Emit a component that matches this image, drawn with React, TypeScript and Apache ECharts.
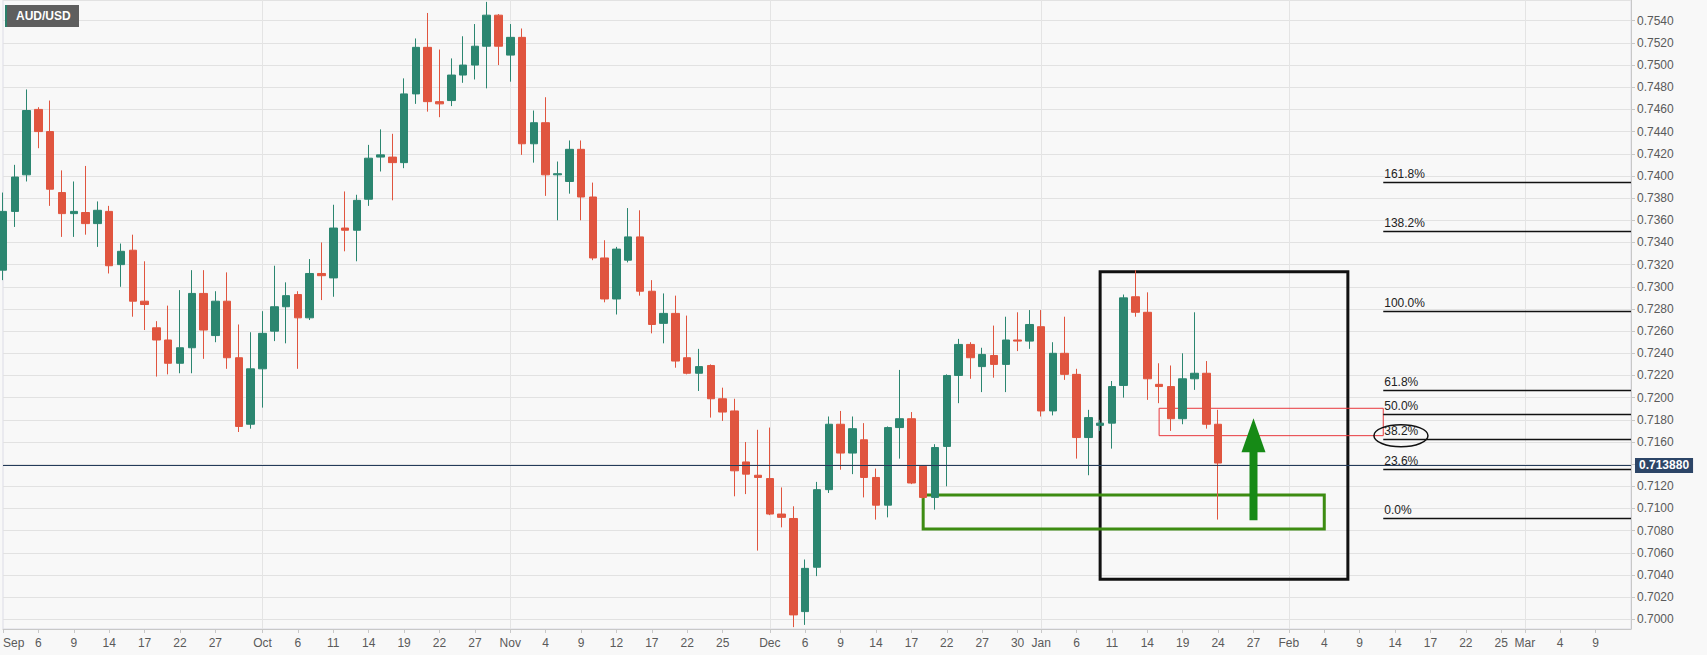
import React, { useEffect, useRef } from "react";
import * as echarts from "echarts";

// ---------- data ----------
const FIRST_DAY = "2021-09-01";
const DAY_COUNT = 139; // trading days shown on the axis (Sep 1 2021 .. Mar 14 2022)

const opens = [
  0.7315, 0.7368, 0.7401, 0.7460, 0.7440, 0.7385, 0.7366, 0.7367, 0.7357, 0.7368,
  0.7320, 0.7333, 0.7287, 0.7263, 0.7252, 0.7231, 0.7245, 0.7294, 0.7256, 0.7287,
  0.7236, 0.7176, 0.7226, 0.7260, 0.7282, 0.7293, 0.7272, 0.7312, 0.7308, 0.7353,
  0.7351, 0.7379, 0.7417, 0.7417, 0.7412, 0.7474, 0.7516, 0.7467, 0.7468, 0.7491,
  0.7500, 0.7517, 0.7545, 0.7509, 0.7525, 0.7429, 0.7448, 0.7401, 0.7395, 0.7424,
  0.7381, 0.7326, 0.7289, 0.7324, 0.7345, 0.7296, 0.7267, 0.7276, 0.7236, 0.7222,
  0.7229, 0.7199, 0.7188, 0.7142, 0.7130, 0.7127, 0.7095, 0.7091, 0.7007, 0.7047,
  0.7117, 0.7176, 0.7150, 0.7162, 0.7128, 0.7103, 0.7173, 0.7181, 0.7138, 0.7110,
  0.7156, 0.7220, 0.7248, 0.7228, 0.7238, 0.7230, 0.7252, 0.7251, 0.7264, 0.7188,
  0.7240, 0.7221, 0.7164, 0.7175, 0.7177, 0.7211, 0.7291, 0.7277, 0.7212, 0.7210,
  0.7181, 0.7217, 0.7222, 0.7176,
];
const closes = [
  0.7368, 0.7399, 0.7459, 0.7440, 0.7388, 0.7366, 0.7368, 0.7357, 0.7369, 0.7319,
  0.7332, 0.7287, 0.7284, 0.7252, 0.7231, 0.7245, 0.7294, 0.7261, 0.7287, 0.7236,
  0.7174, 0.7226, 0.7258, 0.7282, 0.7292, 0.7272, 0.7312, 0.7310, 0.7353, 0.7351,
  0.7378, 0.7416, 0.7419, 0.7412, 0.7474, 0.7516, 0.7467, 0.7465, 0.7491, 0.7500,
  0.7517, 0.7545, 0.7517, 0.7525, 0.7429, 0.7448, 0.7401, 0.7402, 0.7424, 0.7381,
  0.7326, 0.7289, 0.7334, 0.7345, 0.7296, 0.7266, 0.7276, 0.7233, 0.7222, 0.7228,
  0.7199, 0.7187, 0.7134, 0.7131, 0.7128, 0.7095, 0.7092, 0.7004, 0.7046, 0.7117,
  0.7176, 0.7150, 0.7172, 0.7128, 0.7103, 0.7173, 0.7181, 0.7123, 0.7110, 0.7155,
  0.7220, 0.7248, 0.7236, 0.7239, 0.7230, 0.7252, 0.7251, 0.7266, 0.7188, 0.7240,
  0.7221, 0.7164, 0.7182, 0.7177, 0.7210, 0.7290, 0.7277, 0.7217, 0.7210, 0.7181,
  0.7217, 0.7222, 0.7176, 0.7141,
];
const lows = [
  0.7306, 0.7354, 0.7395, 0.7425, 0.7373, 0.7345, 0.7345, 0.7347, 0.7336, 0.7312,
  0.7300, 0.7273, 0.7261, 0.7219, 0.7221, 0.7222, 0.7222, 0.7235, 0.7250, 0.7226,
  0.7169, 0.7172, 0.7191, 0.7251, 0.7249, 0.7226, 0.7270, 0.7288, 0.7291, 0.7332,
  0.7323, 0.7373, 0.7404, 0.7378, 0.7407, 0.7465, 0.7458, 0.7453, 0.7463, 0.7484,
  0.7487, 0.7479, 0.7500, 0.7485, 0.7419, 0.7412, 0.7382, 0.7360, 0.7384, 0.7360,
  0.7324, 0.7286, 0.7275, 0.7322, 0.7292, 0.7258, 0.7249, 0.7227, 0.7221, 0.7206,
  0.7182, 0.7179, 0.7111, 0.7113, 0.7062, 0.7094, 0.7083, 0.6993, 0.6995, 0.7039,
  0.7114, 0.7135, 0.7131, 0.7110, 0.7090, 0.7092, 0.7145, 0.7122, 0.7109, 0.7099,
  0.7120, 0.7195, 0.7217, 0.7205, 0.7218, 0.7205, 0.7242, 0.7244, 0.7183, 0.7184,
  0.7216, 0.7145, 0.7130, 0.7170, 0.7154, 0.7200, 0.7273, 0.7198, 0.7195, 0.7170,
  0.7176, 0.7207, 0.7172, 0.7090,
];
const highs = [
  0.7385, 0.7410, 0.7478, 0.7462, 0.7468, 0.7405, 0.7395, 0.7409, 0.7377, 0.7373,
  0.7339, 0.7347, 0.7323, 0.7269, 0.7283, 0.7297, 0.7315, 0.7315, 0.7296, 0.7313,
  0.7266, 0.7259, 0.7278, 0.7319, 0.7304, 0.7296, 0.7325, 0.7340, 0.7374, 0.7386,
  0.7383, 0.7428, 0.7442, 0.7438, 0.7488, 0.7524, 0.7547, 0.7514, 0.7506, 0.7526,
  0.7537, 0.7557, 0.7546, 0.7537, 0.7533, 0.7459, 0.7471, 0.7413, 0.7432, 0.7432,
  0.7394, 0.7342, 0.7336, 0.7371, 0.7369, 0.7306, 0.7294, 0.7292, 0.7274, 0.7244,
  0.7230, 0.7209, 0.7199, 0.7160, 0.7171, 0.7173, 0.7119, 0.7102, 0.7054, 0.7124,
  0.7183, 0.7188, 0.7183, 0.7177, 0.7136, 0.7174, 0.7225, 0.7187, 0.7139, 0.7158,
  0.7221, 0.7253, 0.7250, 0.7245, 0.7265, 0.7273, 0.7277, 0.7279, 0.7279, 0.7250,
  0.7273, 0.7226, 0.7189, 0.7180, 0.7215, 0.7293, 0.7315, 0.7295, 0.7231, 0.7229,
  0.7240, 0.7277, 0.7233, 0.7189,
];

const tickIndex = [
  0, 3, 6, 9, 12, 15, 18, 22, 25, 28, 31, 34, 37, 40, 43, 46, 49, 52, 55, 58, 61,
  65, 68, 71, 74, 77, 80, 83, 86, 88, 91, 94, 97, 100, 103, 106, 109, 112, 115,
  118, 121, 124, 127, 129, 132, 135,
];
const tickLabels = [
  "Sep", "6", "9", "14", "17", "22", "27", "Oct", "6", "11", "14", "19", "22", "27",
  "Nov", "4", "9", "12", "17", "22", "25", "Dec", "6", "9", "14", "17", "22", "27",
  "30", "Jan", "6", "11", "14", "19", "24", "27", "Feb", "4", "9", "14", "17", "22",
  "25", "Mar", "4", "9",
];
const monthStartIndex = [22, 43, 65, 88, 109, 129];

const lastPrice = 0.71388;

const fibLabels = ["0.0%", "23.6%", "38.2%", "50.0%", "61.8%", "100.0%", "138.2%", "161.8%"];
const fibLevels = [0.70912, 0.71354, 0.71624, 0.7185, 0.72066, 0.72782, 0.73503, 0.73942];
const fibFromIndex = 117;
const fibToIndex = 138;

// annotation boxes: [fromIndex, topValue, toIndex, bottomValue]
const blackBox = [93, 0.73136, 114, 0.70362];
const greenBox = [78, 0.71122, 112, 0.70815];
const redBox = [98, 0.71904, 117, 0.71657];
// arrow: [index, baseValue, tipValue]
const arrowData = [[106, 0.70895, 0.71814]];
// ellipse around the 38.2% label: [index (between it and next), value]
const ellipseData = [[118, 0.71657]];

// ---------- helpers ----------
function tradingDays(start: string, count: number): string[] {
  const out: string[] = [];
  const d = new Date(start + "T00:00:00Z");
  while (out.length < count) {
    const wd = d.getUTCDay();
    if (wd !== 0 && wd !== 6) out.push(d.toISOString().slice(0, 10));
    d.setUTCDate(d.getUTCDate() + 1);
  }
  return out;
}

const GREEN = "#2b8670";
const RED = "#e0553f";
const FONT = "'Liberation Sans', Arial, sans-serif";

export default function App() {
  const ref = useRef<HTMLDivElement>(null);

  useEffect(() => {
    if (!ref.current) return;
    const chart = echarts.init(ref.current, undefined, { renderer: "svg" });

    const categories = tradingDays(FIRST_DAY, DAY_COUNT);
    const candles = opens.map((o, i) => [o, closes[i], lows[i], highs[i]]);
    const tickSet = new Set(tickIndex);
    const labelMap: Record<number, string> = {};
    tickIndex.forEach((t, i) => (labelMap[t] = tickLabels[i]));
    const monthSet = new Set(monthStartIndex);

    const boxStyle = (color: string, width: number) => ({
      color: "rgba(0,0,0,0)",
      borderColor: color,
      borderWidth: width,
    });
    const box = (b: number[], color: string, width: number) => [
      { coord: [b[0], b[1]], itemStyle: boxStyle(color, width) },
      { coord: [b[2], b[3]] },
    ];

    const option: any = {
      animation: false,
      backgroundColor: "#f8f8f8",
      textStyle: { fontFamily: FONT },
      grid: {
        left: 0,
        right: 76,
        top: 0,
        bottom: 26,
        show: true,
        borderColor: "#dcdce6",
        borderWidth: 1,
        backgroundColor: "transparent",
      },
      xAxis: {
        type: "category",
        data: categories,
        boundaryGap: false,
        axisLine: { show: true, lineStyle: { color: "#c8c8c8" } },
        axisTick: {
          show: true,
          interval: (i: number) => tickSet.has(i),
          length: 4,
          lineStyle: { color: "#c8c8c8" },
        },
        axisLabel: {
          interval: (i: number) => tickSet.has(i),
          formatter: (_v: string, i: number) => labelMap[i] ?? "",
          color: "#5a5a5a",
          fontSize: 12,
          fontFamily: FONT,
          margin: 8,
          alignMinLabel: "left",
        },
        splitLine: {
          show: true,
          interval: (i: number) => monthSet.has(i),
          lineStyle: { color: "#e4e4e4", width: 1 },
        },
      },
      yAxis: {
        type: "value",
        position: "right",
        scale: true,
        min: 0.69913,
        max: 0.75587,
        splitNumber: 28,
        axisLine: { show: true, lineStyle: { color: "#c8c8c8" } },
        axisTick: { show: true, length: 4, lineStyle: { color: "#c8c8c8" } },
        axisLabel: {
          color: "#5a5a5a",
          fontSize: 12,
          fontFamily: FONT,
          margin: 6,
          showMinLabel: false,
          showMaxLabel: false,
          formatter: (v: number) => {
            const onGrid = Math.abs(v * 500 - Math.round(v * 500)) < 1e-6;
            const underTag = Math.abs(v - lastPrice) < 0.0012;
            return onGrid && !underTag ? v.toFixed(4) : "";
          },
        },
        splitLine: { show: true, lineStyle: { color: "#e2e2e2", width: 1 } },
      },
      graphic: [
        {
          type: "group",
          left: 5,
          top: 5,
          z: 100,
          children: [
            { type: "rect", z: 100, shape: { x: 0, y: 0, width: 74, height: 22 }, style: { fill: "#5e5e5e" } },
            { type: "rect", z: 101, shape: { x: 0, y: 0, width: 2, height: 22 }, style: { fill: "#2b7f6a" } },
            {
              type: "text",
              z: 102,
              x: 11,
              y: 11,
              style: {
                text: "AUD/USD",
                fill: "#ffffff",
                font: `bold 12px ${FONT}`,
                verticalAlign: "middle",
              },
            },
          ],
        },
      ],
      series: [
        {
          type: "candlestick",
          data: candles,
          barWidth: 8,
          itemStyle: {
            color: GREEN,
            color0: RED,
            borderColor: GREEN,
            borderColor0: RED,
            borderWidth: 1,
          },
          markArea: {
            silent: true,
            label: { show: false },
            data: [box(blackBox, "#111111", 3), box(greenBox, "#3d8c12", 3), box(redBox, "#e8383d", 1)],
          },
          markLine: {
            silent: true,
            symbol: ["none", "none"],
            data: [
              ...fibLevels.map((lv, i) => [
                {
                  coord: [fibFromIndex, lv],
                  lineStyle: { color: "#111111", width: 1.3, type: "solid" },
                  label: {
                    show: true,
                    position: "insideStartTop",
                    formatter: fibLabels[i],
                    color: "#222222",
                    fontSize: 12,
                    fontFamily: FONT,
                    distance: [1, 2],
                  },
                },
                { coord: [fibToIndex, lv] },
              ]),
              [
                {
                  coord: [0, lastPrice],
                  lineStyle: { color: "#243b5a", width: 1, type: "solid" },
                  label: {
                    show: true,
                    position: "end",
                    formatter: lastPrice.toFixed(6),
                    backgroundColor: "#2c4567",
                    color: "#ffffff",
                    fontWeight: "bold",
                    fontSize: 12,
                    fontFamily: FONT,
                    padding: [2, 4, 1, 4],
                    distance: 4,
                  },
                },
                { coord: [DAY_COUNT - 1, lastPrice] },
              ],
            ],
          },
          z: 3,
        },
        {
          type: "custom",
          data: arrowData,
          silent: true,
          z: 5,
          renderItem: (_p: any, api: any) => {
            const base = api.coord([api.value(0), api.value(1)]);
            const tip = api.coord([api.value(0), api.value(2)]);
            const x = base[0];
            const headLen = 34;
            const sw = 4;
            const hw = 12;
            const hy = tip[1] + headLen;
            return {
              type: "polygon",
              shape: {
                points: [
                  [x - sw, base[1]],
                  [x - sw, hy],
                  [x - hw, hy],
                  [x, tip[1]],
                  [x + hw, hy],
                  [x + sw, hy],
                  [x + sw, base[1]],
                ],
              },
              style: { fill: "#168a16" },
            };
          },
        },
        {
          type: "custom",
          data: ellipseData,
          silent: true,
          z: 5,
          renderItem: (_p: any, api: any) => {
            const a = api.coord([api.value(0), api.value(1)]);
            const b = api.coord([api.value(0) + 1, api.value(1)]);
            return {
              type: "ellipse",
              shape: { cx: (a[0] + b[0]) / 2, cy: a[1], rx: 27, ry: 11 },
              style: { fill: "none", stroke: "#111111", lineWidth: 1.5 },
            };
          },
        },
      ],
    };

    chart.setOption(option);
    return () => chart.dispose();
  }, []);

  return (
    <div
      ref={ref}
      style={{
        position: "absolute",
        left: 0,
        top: 0,
        width: 1707,
        height: 655,
        background: "#f8f8f8",
      }}
    />
  );
}
